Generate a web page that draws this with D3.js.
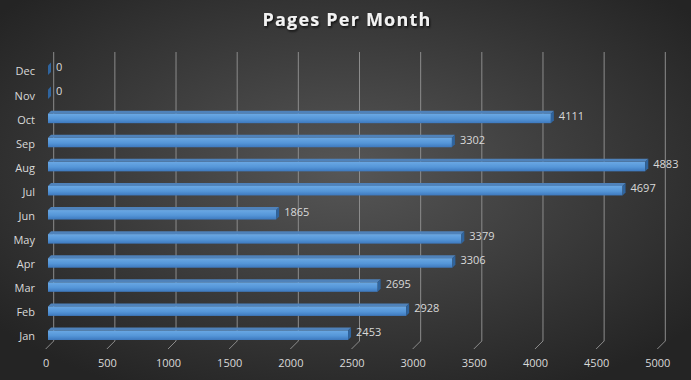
<!DOCTYPE html>
<html>
<head>
<meta charset="utf-8">
<script src="https://cdn.jsdelivr.net/npm/d3@7"></script>
<style>
  body { margin: 0; background: #262626; }
  svg { display: block; }
</style>
</head>
<body>
<div id="chart"></div>
<script>
// chart data
const months = ['Jan', 'Feb', 'Mar', 'Apr', 'May', 'Jun', 'Jul', 'Aug', 'Sep', 'Oct', 'Nov', 'Dec'];
const pages = [2453, 2928, 2695, 3306, 3379, 1865, 4697, 4883, 3302, 4111, 0, 0];
const tickValues = [0, 500, 1000, 1500, 2000, 2500, 3000, 3500, 4000, 4500, 5000];

const WIDTH = 691, HEIGHT = 380;
const DEPTH = 8;       // offset between back wall and floor edge
const BAR_D = 3;       // bar depth skew

const svg = d3.select('#chart').append('svg')
    .attr('width', WIDTH)
    .attr('height', HEIGHT);

const defs = svg.append('defs');

const bg = defs.append('radialGradient')
    .attr('id', 'bg')
    .attr('cx', '50%').attr('cy', '45%').attr('r', '65%');
bg.append('stop').attr('offset', '0%').attr('stop-color', '#565656');
bg.append('stop').attr('offset', '100%').attr('stop-color', '#242424');

const barGrad = defs.append('linearGradient')
    .attr('id', 'barFront')
    .attr('x1', 0).attr('y1', 0).attr('x2', 0).attr('y2', 1);
barGrad.append('stop').attr('offset', '0%').attr('stop-color', '#6aa8e4');
barGrad.append('stop').attr('offset', '55%').attr('stop-color', '#5596d8');
barGrad.append('stop').attr('offset', '100%').attr('stop-color', '#3d78bd');

const shadow = defs.append('filter').attr('id', 'shadow')
    .attr('x', '-10%').attr('y', '-30%').attr('width', '120%').attr('height', '160%');
shadow.append('feDropShadow')
    .attr('dx', 1).attr('dy', 1.5).attr('stdDeviation', 1.2)
    .attr('flood-color', '#000').attr('flood-opacity', 0.8);

svg.append('rect')
    .attr('width', WIDTH).attr('height', HEIGHT)
    .attr('fill', 'url(#bg)');

svg.append('text')
    .attr('x', 347).attr('y', 26)
    .attr('text-anchor', 'middle')
    .attr('font-family', 'Open Sans, sans-serif')
    .attr('font-weight', 'bold')
    .attr('font-size', 18)
    .attr('letter-spacing', 1.2)
    .attr('fill', '#f2f2f2')
    .attr('filter', 'url(#shadow)')
    .text('Pages Per Month');

// scales
const xBack = d3.scaleLinear().domain([0, 5000]).range([53.7, 665.3]);
const xFront = d3.scaleLinear().domain([0, 5000]).range([53.7 - DEPTH, 665.3 - DEPTH]);
const xBar = d3.scaleLinear().domain([0, 5000]).range([48, 48 + 611.6]);
const y = d3.scalePoint().domain(months.slice().reverse()).range([70, 335]);

const wallTop = 52, wallBottom = 341;

// gridlines with floor diagonal
svg.append('g').selectAll('path')
    .data(tickValues)
    .join('path')
    .attr('d', d => `M${xBack(d)},${wallTop}V${wallBottom}L${xFront(d)},${wallBottom + DEPTH}`)
    .attr('fill', 'none')
    .attr('stroke', '#8c8c8c')
    .attr('stroke-width', 1);

// x axis labels
const xAxis = svg.append('g')
    .attr('transform', `translate(0,${wallBottom + DEPTH + 7})`)
    .call(d3.axisBottom(xFront).tickValues(tickValues).tickSize(0).tickFormat(d3.format('d')));
xAxis.select('.domain').remove();
xAxis.selectAll('text')
    .attr('fill', '#d9d9d9')
    .attr('font-family', 'Open Sans, sans-serif')
    .attr('font-size', 11);

// y axis labels
const yAxis = svg.append('g')
    .attr('transform', 'translate(35,0)')
    .call(d3.axisLeft(y).tickSize(0).tickPadding(0));
yAxis.select('.domain').remove();
yAxis.selectAll('text')
    .attr('fill', '#d9d9d9')
    .attr('font-family', 'Open Sans, sans-serif')
    .attr('font-size', 11)
    .attr('dy', '0.45em');

// 3D bars
const rows = months.map((m, i) => ({ month: m, value: pages[i] }));
const bars = svg.append('g').selectAll('g')
    .data(rows)
    .join('g');

bars.append('path')   // top face
    .attr('d', d => {
        const c = y(d.month), x1 = xBar(d.value);
        return `M48,${c - 4.5}L${x1},${c - 4.5}L${x1 + BAR_D},${c - 7.5}L${48 + BAR_D},${c - 7.5}Z`;
    })
    .attr('fill', '#4f82ba');

bars.append('rect')   // front face
    .attr('x', 48)
    .attr('y', d => y(d.month) - 4.5)
    .attr('width', d => xBar(d.value) - 48)
    .attr('height', 9.5)
    .attr('fill', 'url(#barFront)');

bars.append('path')   // end cap
    .attr('d', d => {
        const c = y(d.month), x1 = xBar(d.value);
        return `M${x1},${c - 4.5}L${x1 + BAR_D},${c - 7.5}L${x1 + BAR_D},${c + 2}L${x1},${c + 5}Z`;
    })
    .attr('fill', '#2f649e');

bars.append('text')
    .attr('x', d => xBar(d.value) + 8)
    .attr('y', d => y(d.month) - 2.5)
    .attr('dy', '0.35em')
    .attr('fill', '#d9d9d9')
    .attr('font-family', 'Open Sans, sans-serif')
    .attr('font-size', 11)
    .text(d => d.value);
</script>
</body>
</html>
